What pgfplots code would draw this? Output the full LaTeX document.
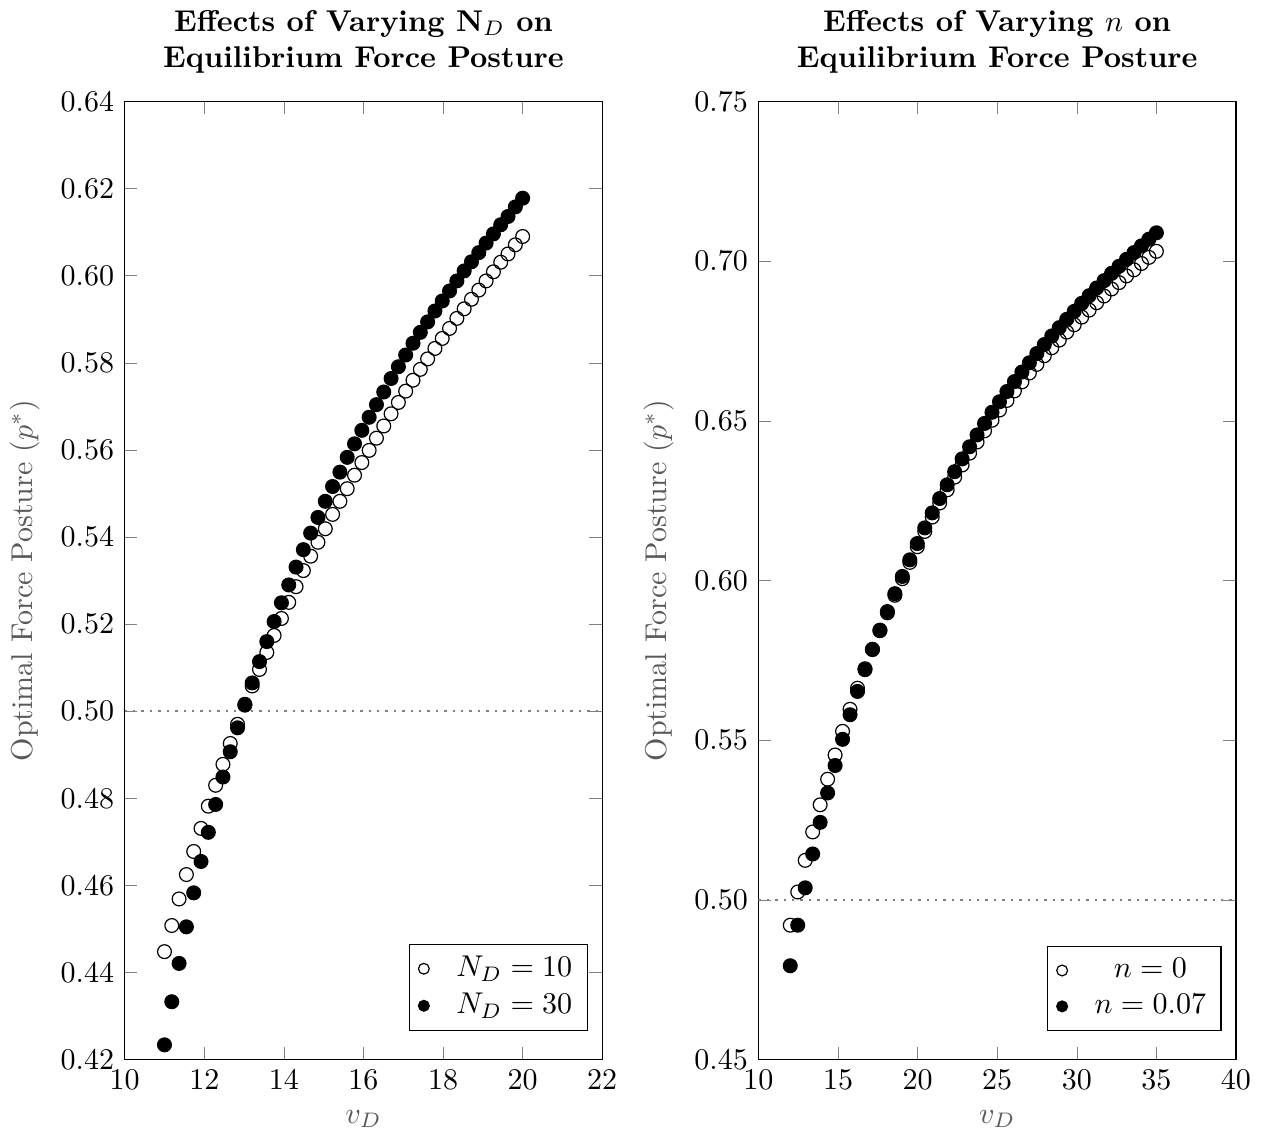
\documentclass[border=0pt]{standalone}
\usepackage{pgfplots}
\usepackage{pgfplotstable}
\pgfplotsset{compat=1.18}

% v_D, N_D=10 (open), N_D=30 (filled)
\pgfplotstableread{
x       a       b
11.0000 0.4448 0.4234
11.1837 0.4508 0.4333
11.3673 0.4569 0.4421
11.5510 0.4625 0.4505
11.7347 0.4678 0.4583
11.9184 0.4731 0.4655
12.1020 0.4782 0.4722
12.2857 0.4830 0.4786
12.4694 0.4878 0.4849
12.6531 0.4926 0.4907
12.8367 0.4970 0.4962
13.0204 0.5016 0.5014
13.2041 0.5058 0.5065
13.3878 0.5096 0.5114
13.5714 0.5135 0.5160
13.7551 0.5174 0.5206
13.9388 0.5213 0.5249
14.1224 0.5250 0.5290
14.3061 0.5286 0.5331
14.4898 0.5323 0.5371
14.6735 0.5356 0.5409
14.8571 0.5388 0.5445
15.0408 0.5419 0.5482
15.2245 0.5452 0.5516
15.4082 0.5482 0.5549
15.5918 0.5511 0.5583
15.7755 0.5542 0.5614
15.9592 0.5571 0.5645
16.1429 0.5599 0.5675
16.3265 0.5627 0.5704
16.5102 0.5655 0.5733
16.6939 0.5683 0.5764
16.8776 0.5709 0.5791
17.0612 0.5735 0.5818
17.2449 0.5760 0.5845
17.4286 0.5785 0.5870
17.6122 0.5809 0.5894
17.7959 0.5833 0.5919
17.9796 0.5856 0.5942
18.1633 0.5879 0.5965
18.3469 0.5902 0.5988
18.5306 0.5924 0.6011
18.7143 0.5946 0.6032
18.8980 0.5967 0.6053
19.0816 0.5988 0.6075
19.2653 0.6009 0.6096
19.4490 0.6031 0.6117
19.6327 0.6050 0.6136
19.8163 0.6071 0.6158
20.0000 0.6090 0.6178
}\leftdata

% v_D, n=0 (open), n=0.07 (filled)
\pgfplotstableread{
x       a       b
12.0000 0.4921 0.4794
12.4694 0.5025 0.4921
12.9388 0.5124 0.5038
13.4082 0.5213 0.5144
13.8776 0.5298 0.5243
14.3469 0.5378 0.5335
14.8163 0.5454 0.5421
15.2857 0.5528 0.5503
15.7551 0.5597 0.5580
16.2245 0.5663 0.5653
16.6939 0.5724 0.5721
17.1633 0.5784 0.5785
17.6327 0.5843 0.5845
18.1020 0.5899 0.5903
18.5714 0.5954 0.5959
19.0408 0.6006 0.6013
19.5102 0.6057 0.6065
19.9796 0.6106 0.6116
20.4490 0.6154 0.6165
20.9184 0.6199 0.6212
21.3878 0.6243 0.6257
21.8571 0.6284 0.6300
22.3265 0.6324 0.6341
22.7959 0.6362 0.6381
23.2653 0.6399 0.6419
23.7347 0.6434 0.6456
24.2041 0.6469 0.6492
24.6735 0.6502 0.6527
25.1429 0.6534 0.6560
25.6122 0.6564 0.6592
26.0816 0.6594 0.6623
26.5510 0.6622 0.6653
27.0204 0.6650 0.6682
27.4898 0.6677 0.6711
27.9592 0.6704 0.6739
28.4286 0.6729 0.6766
28.8980 0.6753 0.6792
29.3673 0.6778 0.6818
29.8367 0.6801 0.6843
30.3061 0.6825 0.6868
30.7755 0.6847 0.6892
31.2449 0.6870 0.6916
31.7143 0.6891 0.6939
32.1837 0.6913 0.6962
32.6531 0.6933 0.6984
33.1224 0.6954 0.7006
33.5918 0.6973 0.7027
34.0612 0.6993 0.7048
34.5306 0.7012 0.7069
35.0000 0.7031 0.7089
}\rightdata

\pgfplotsset{
  posture/.style={
    scale only axis, width=159pt, height=319pt,
    title style={font=\bfseries, align=center},
    xlabel={$v_D$}, ylabel={Optimal Force Posture ($p^{*}$)},
    label style={color=black!65},
    yticklabel style={/pgf/number format/.cd, fixed, fixed zerofill, precision=2},
    legend style={at={(0.97,0.03)}, anchor=south east,
      /tikz/every odd column/.append style={column sep=7pt}},
    legend cell align=center,
    legend image post style={mark size=1.8pt},
  },
  open/.style={only marks, mark=o, black, mark size=2.3pt},
  full/.style={only marks, mark=*, black, mark size=2.3pt},
}

\begin{document}
\begin{tikzpicture}
\begin{axis}[posture,
  title={Effects of Varying N$_D$ on\\Equilibrium Force Posture},
  xmin=10, xmax=22, ymin=0.42, ymax=0.64,
  xtick={10,12,14,16,18,20,22},
  ytick={0.42,0.44,0.46,0.48,0.50,0.52,0.54,0.56,0.58,0.60,0.62,0.64},
]
\addplot[gray, dotted, thick, forget plot] coordinates {(10,0.5) (22,0.5)};
\addplot[open] table[x=x, y=a] {\leftdata};
\addplot[full] table[x=x, y=b] {\leftdata};
\legend{$N_D=10$, $N_D=30$}
\end{axis}

\begin{axis}[posture, at={(211pt,0)},
  title={Effects of Varying $n$ on\\Equilibrium Force Posture},
  xmin=10, xmax=40, ymin=0.45, ymax=0.75,
  xtick={10,15,20,25,30,35,40},
  ytick={0.45,0.50,0.55,0.60,0.65,0.70,0.75},
]
\addplot[gray, dotted, thick, forget plot] coordinates {(10,0.5) (40,0.5)};
\addplot[open] table[x=x, y=a] {\rightdata};
\addplot[full] table[x=x, y=b] {\rightdata};
\legend{$n=0$, $n=0.07$}
\end{axis}
\end{tikzpicture}
\end{document}
